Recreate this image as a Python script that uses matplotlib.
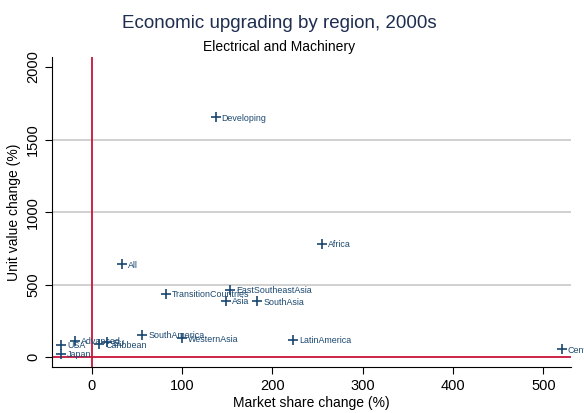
import matplotlib.pyplot as plt

# Données
regions = ['Developing', 'All', 'Africa', 'TransitionCountries', 'EastSoutheastAsia',
           'Asia', 'SouthAsia', 'WesternAsia', 'LatinAmerica', 'SouthAmerica',
           'CentralAmerica', 'USA', 'Japan', 'Advanced', 'Caribbean', 'EU']
market_share = [137, 34, 255, 82, 153, 149, 183, 100, 223, 56, 520, -34, -34, -18, 8.5, 16.5]
unit_value = [1653, 639, 781, 434, 462, 388, 384, 129, 117, 154, 53, 83, 25, 112, 88, 101]

xticks = [0, 100, 200, 300, 400, 500]
yticks = [0, 500, 1000, 1500, 2000]

navy = '#1a476f'
plt.rcParams['font.family'] = ['Liberation Sans', 'DejaVu Sans']

fig = plt.figure(figsize=(5.84, 4.13), dpi=100)
ax = fig.add_axes([0.089, 0.111, 0.888, 0.751])

# Grille horizontale seulement aux valeurs intérieures
for y in yticks[1:-1]:
    ax.axhline(y, color='#c8c8c8', linewidth=1.2, zorder=0)

# Lignes de référence en rouge
ax.axvline(0, color='#c8143c', linewidth=1.3, zorder=1)
ax.axhline(0, color='#c8143c', linewidth=1.3, zorder=1)

ax.scatter(market_share, unit_value, marker='+', s=45, color=navy, linewidths=1.2, zorder=3)
for name, x, y in zip(regions, market_share, unit_value):
    ax.annotate(name, (x, y), xytext=(4.3, -0.5), textcoords='offset points',
                fontsize=6.4, color=navy, va='center', ha='left', annotation_clip=False)

ax.set_xlim(-44, 530)
ax.set_ylim(-69, 2069)
ax.set_xticks(xticks)
ax.set_yticks(yticks)
ax.tick_params(axis='both', labelsize=10.5, length=5, width=0.8, color='black')
plt.setp(ax.get_yticklabels(), rotation=90, va='center')

ax.spines['top'].set_visible(False)
ax.spines['right'].set_visible(False)
ax.spines['left'].set_linewidth(0.8)
ax.spines['bottom'].set_linewidth(0.8)

ax.set_xlabel('Market share change (%)', fontsize=10, labelpad=2)
ax.set_ylabel('Unit value change (%)', fontsize=10, labelpad=4)

fig.text(0.478, 0.943, 'Economic upgrading by region, 2000s', fontsize=13.5,
         color='#1e2d50', ha='center', va='center')
fig.text(0.478, 0.887, 'Electrical and Machinery', fontsize=10,
         color='black', ha='center', va='center')

fig.savefig('out.png', dpi=100, facecolor='white')
